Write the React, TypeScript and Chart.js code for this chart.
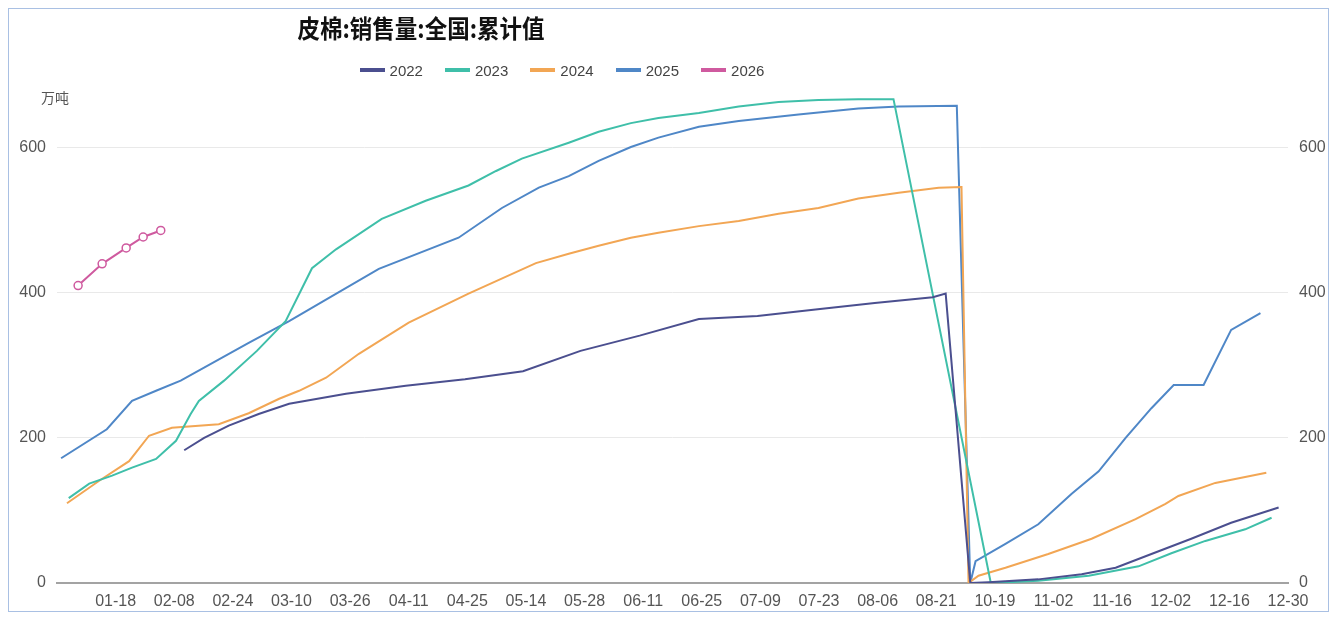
import React, { useEffect, useRef } from "react";
import { Chart, registerables } from "chart.js";

Chart.register(...registerables);

// X axis: category positions (index units); a label every 10 positions
const xTickLabels = ["", "01-18", "02-08", "02-24", "03-10", "03-26", "04-11", "04-25", "05-14", "05-28", "06-11", "06-25", "07-09", "07-23", "08-06", "08-21", "10-19", "11-02", "11-16", "12-02", "12-16", "12-30"];
const yTicks = [0, 200, 400, 600];
const seriesNames = ["2022", "2023", "2024", "2025", "2026"];
const seriesColors = ["#4b4f8f", "#3fbfa9", "#f2a654", "#4f87c7", "#cf5a9f"];

const idx2022 = [21.7, 25.1, 29.3, 34.4, 39.6, 49.3, 59.5, 69.6, 79.5, 89.3, 99.4, 109.5, 119.5, 129.4, 139.5, 149.4, 151.6, 155.8, 158.9, 167.4, 174.8, 180.6, 186.7, 193.5, 200.3, 208.4];
const val2022 = [183, 200, 217, 233, 247, 261, 272, 281, 292, 320, 341, 364, 368, 377, 386, 394, 399, 0, 1, 5, 12, 21, 40, 61, 83, 104];

const idx2023 = [2.0, 5.5, 9.4, 12.8, 16.9, 20.3, 22.8, 24.2, 28.5, 34.1, 39.0, 43.5, 47.6, 55.4, 62.9, 70.2, 74.9, 79.3, 87.3, 92.4, 97.9, 102.6, 109.5, 116.3, 123.1, 129.9, 136.7, 142.7, 159.3, 167.4, 176.0, 184.5, 190.1, 195.9, 202.7, 207.2];
const val2023 = [117, 137, 148, 159, 171, 196, 233, 251, 279, 320, 361, 434, 460, 502, 527, 548, 568, 585, 607, 622, 634, 641, 648, 657, 663, 666, 667, 667, 0, 3, 10, 23, 41, 58, 74, 90];

const idx2024 = [1.7, 7.2, 12.3, 15.7, 19.6, 27.6, 32.7, 37.9, 41.3, 45.9, 51.5, 60.0, 70.2, 81.7, 87.3, 92.4, 97.9, 102.6, 109.5, 116.3, 123.1, 129.9, 136.7, 143.6, 150.4, 154.3, 155.5, 157.2, 161.8, 169.1, 176.5, 184.0, 189.1, 191.3, 197.6, 206.3];
const val2024 = [110, 141, 168, 203, 214, 219, 234, 254, 265, 283, 316, 359, 399, 441, 454, 465, 476, 483, 492, 499, 509, 517, 530, 538, 545, 546, 0, 10, 21, 40, 61, 88, 109, 120, 138, 152];

const idx2025 = [0.7, 8.5, 12.8, 16.9, 21.1, 32.7, 39.6, 46.4, 54.9, 68.5, 75.9, 82.2, 87.3, 92.4, 97.9, 102.6, 109.5, 116.3, 126.5, 136.7, 143.6, 153.5, 155.8, 156.7, 161.8, 167.4, 173.1, 177.7, 182.3, 186.7, 190.5, 195.6, 200.3, 205.3];
const val2025 = [172, 212, 251, 265, 279, 331, 361, 393, 433, 476, 517, 545, 561, 582, 601, 614, 629, 637, 646, 654, 657, 658, 0, 30, 54, 81, 123, 154, 200, 241, 273, 273, 349, 372];

const idx2026 = [3.6, 7.7, 11.8, 14.7, 17.7];
const val2026 = [410, 440, 462, 477, 486];

const titleText = "皮棉:销售量:全国:累计值";
const unitText = "万吨";

const tickFont = { family: "'Liberation Sans', Arial, sans-serif", size: 16 };

export default function App() {
  const ref = useRef<HTMLCanvasElement>(null);

  useEffect(() => {
    const pts = (xs: number[], ys: number[]) => xs.map((x, i) => ({ x, y: ys[i] }));
    const allIdx = [idx2022, idx2023, idx2024, idx2025, idx2026];
    const allVal = [val2022, val2023, val2024, val2025, val2026];
    const datasets = seriesNames.map((name, s) => ({
      label: name,
      data: pts(allIdx[s], allVal[s]),
      borderColor: seriesColors[s],
      backgroundColor: seriesColors[s],
      borderWidth: 2,
      pointRadius: name === "2026" ? 4 : 0,
      pointBackgroundColor: "#ffffff",
      pointBorderColor: seriesColors[s],
      pointBorderWidth: 1.5,
      tension: 0,
      fill: false,
      yAxisID: "y",
    }));

    const yAfterBuild = (s: any) => {
      s.ticks = yTicks.map((v) => ({ value: v }));
    };

    const chart = new Chart(ref.current!, {
      type: "line",
      data: { datasets },
      options: {
        responsive: false,
        animation: false,
        layout: { padding: { left: 8, right: 2, top: 88, bottom: 0 } },
        plugins: {
          legend: { display: false },
          title: { display: false },
          tooltip: { enabled: false },
        },
        scales: {
          x: {
            type: "linear",
            position: "bottom",
            min: 0,
            max: (xTickLabels.length - 1) * 10,
            grid: { display: false, drawTicks: false },
            border: { display: true, color: "#a3a3a3", width: 2 },
            ticks: {
              autoSkip: false,
              maxRotation: 0,
              padding: 9,
              color: "#555555",
              font: tickFont,
              callback: (v: any) => xTickLabels[Math.round(Number(v) / 10)] ?? "",
            },
            afterBuildTicks: (s: any) => {
              s.ticks = xTickLabels.map((_, i) => ({ value: i * 10 }));
            },
            afterFit: (s: any) => {
              s.height = 28;
            },
          },
          y: {
            type: "linear",
            position: "left",
            min: 0,
            max: 670,
            grid: { color: "#e9e9e9", drawTicks: false, lineWidth: 1 },
            border: { display: false },
            ticks: { padding: 11, color: "#555555", font: tickFont },
            afterBuildTicks: yAfterBuild,
            afterFit: (s: any) => {
              s.width = 40;
            },
          },
          y1: {
            type: "linear",
            position: "right",
            min: 0,
            max: 670,
            grid: { display: false, drawTicks: false },
            border: { display: false },
            ticks: { padding: 11, color: "#555555", font: tickFont },
            afterBuildTicks: yAfterBuild,
            afterFit: (s: any) => {
              s.width = 38;
            },
          },
        },
      },
    });
    return () => chart.destroy();
  }, []);

  return (
    <div
      style={{
        position: "relative",
        width: 1321,
        height: 604,
        boxSizing: "border-box",
        border: "1px solid #a9c0e3",
        fontFamily: "'Liberation Sans', Arial, sans-serif",
      }}
    >
      <canvas ref={ref} width={1319} height={602} style={{ display: "block" }} />
      <div
        style={{
          position: "absolute",
          left: 212,
          top: 3,
          width: 400,
          textAlign: "center",
          fontFamily: "'Noto Sans CJK SC', sans-serif",
          fontWeight: 700,
          fontSize: 25,
          lineHeight: "30px",
          color: "#111111",
          transform: "scaleX(0.9)",
        }}
      >
        {titleText}
      </div>
      <div
        style={{
          position: "absolute",
          left: 253,
          top: 51,
          width: 600,
          height: 20,
          display: "flex",
          justifyContent: "center",
          alignItems: "center",
          fontSize: 15,
          color: "#444444",
        }}
      >
        {seriesNames.map((n, i) => (
          <div key={n} style={{ display: "flex", alignItems: "center", marginRight: i < seriesNames.length - 1 ? 22 : 0 }}>
            <span style={{ display: "inline-block", width: 25, height: 4, background: seriesColors[i], marginRight: 5 }} />
            <span>{n}</span>
          </div>
        ))}
      </div>
      <div
        style={{
          position: "absolute",
          left: 32,
          top: 79,
          fontFamily: "'Noto Sans CJK SC', sans-serif",
          fontSize: 14,
          lineHeight: "18px",
          color: "#555555",
        }}
      >
        {unitText}
      </div>
    </div>
  );
}
